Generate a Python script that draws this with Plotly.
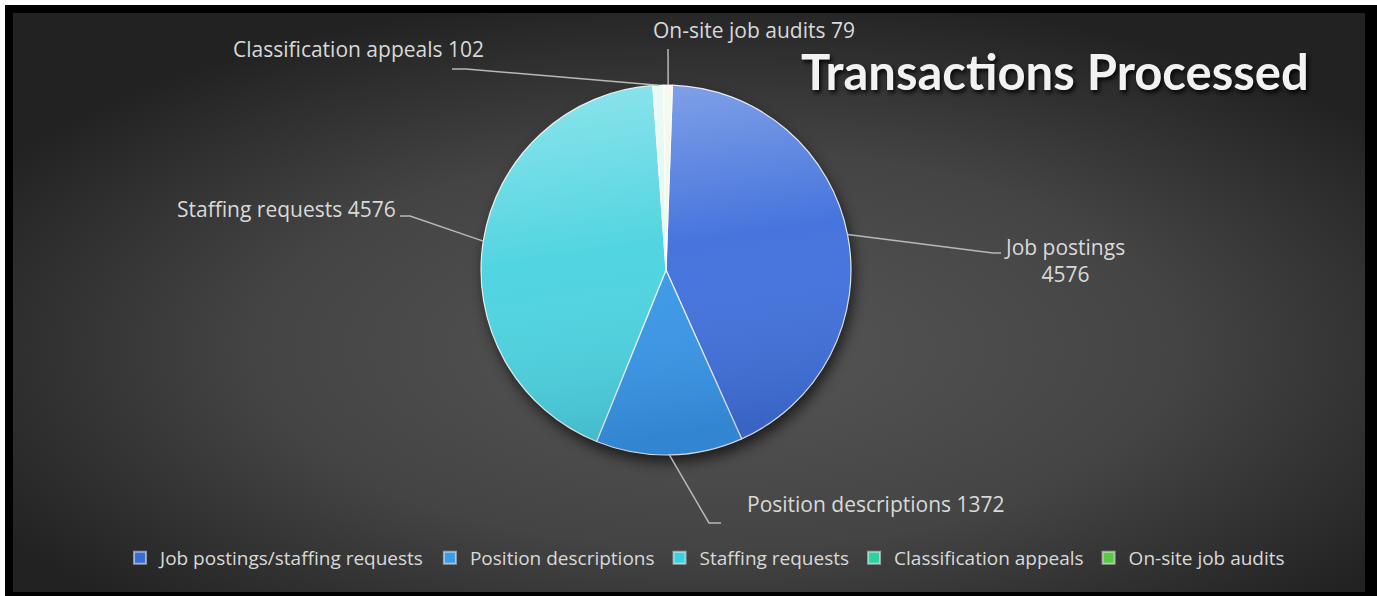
import base64
import numpy as np
import plotly.graph_objects as go

# ---------------- data ----------------
slice_labels = ["Job postings", "Position descriptions", "Staffing requests",
                "Classification appeals", "On-site job audits"]
slice_values = [4576, 1372, 4576, 102, 79]
legend_names = ["Job postings/staffing requests", "Position descriptions",
                "Staffing requests", "Classification appeals", "On-site job audits"]
label_separators = ["<br>", " ", " ", " ", " "]
chart_title = "Transactions Processed"

# ---------------- styles / layout ----------------
W, H = 1377, 596
CX, CY, R = 666, 270, 185          # pie centre / radius in px
ROTATION = 2                        # first slice start angle (deg, clockwise from 12 o'clock)
slice_colors = ["#4272dc", "#3a98e8", "#4dd4e0", "#e2f7f1", "#f1f8e4"]
legend_colors = ["#3a6cd6", "#3b9be8", "#3fd0e0", "#2fd0a2", "#5cc84a"]
text_color = "#d9d9d9"
leader_color = "#b8b8b8"

# per label: elbow point, end point of leader, text anchor, x-anchor (pixels)
label_layout = [
    dict(elbow=(993, 253), end=(1001, 253), text=(1064, 261), xanchor="center"),
    dict(elbow=(709, 523), end=(721, 523), text=(745, 504), xanchor="left"),
    dict(elbow=(410, 216), end=(400, 216), text=(398, 209), xanchor="right"),
    dict(elbow=(466, 69), end=(452, 69), text=(231, 49), xanchor="left"),
    dict(elbow=(668, 49), end=(668, 49), text=(651, 30), xanchor="left"),
]


def px(x, y):
    return x / W, 1 - y / H


# ---------------- background (svg) ----------------
bg_svg = f'''<svg xmlns="http://www.w3.org/2000/svg" width="{W}" height="{H}" viewBox="0 0 {W} {H}" preserveAspectRatio="none">
<defs>
<radialGradient id="g" cx="0.52" cy="0.58" r="0.62">
<stop offset="0" stop-color="#565656"/><stop offset="0.55" stop-color="#444444"/><stop offset="1" stop-color="#222222"/>
</radialGradient>
<filter id="b" x="-50%" y="-50%" width="200%" height="200%"><feGaussianBlur stdDeviation="7"/></filter>
</defs>
<rect width="{W}" height="{H}" fill="#ffffff"/>
<rect x="5" y="5" width="{W-5}" height="{H-5}" fill="#000000"/>
<rect x="13" y="13" width="{W-25}" height="{H-17}" fill="url(#g)"/>
<circle cx="{CX+3}" cy="{CY+7}" r="{R}" fill="#000000" opacity="0.65" filter="url(#b)"/>
</svg>'''

shade_svg = f'''<svg xmlns="http://www.w3.org/2000/svg" width="{W}" height="{H}" viewBox="0 0 {W} {H}" preserveAspectRatio="none">
<defs>
<linearGradient id="s" x1="0" y1="0" x2="0.15" y2="1">
<stop offset="0" stop-color="#ffffff" stop-opacity="0.38"/>
<stop offset="0.5" stop-color="#ffffff" stop-opacity="0.02"/>
<stop offset="1" stop-color="#001040" stop-opacity="0.14"/>
</linearGradient>
</defs>
<circle cx="{CX}" cy="{CY}" r="{R}" fill="url(#s)"/>
</svg>'''


def svg_uri(s):
    return "data:image/svg+xml;base64," + base64.b64encode(s.encode()).decode()


fig = go.Figure()

fig.add_trace(go.Pie(
    labels=slice_labels,
    values=slice_values,
    sort=False,
    direction="clockwise",
    rotation=ROTATION,
    textinfo="none",
    hoverinfo="label+value",
    showlegend=False,
    marker=dict(colors=slice_colors, line=dict(color="rgba(255,255,255,0.85)", width=1.2)),
    domain=dict(x=[(CX - R) / W, (CX + R) / W], y=[1 - (CY + R) / H, 1 - (CY - R) / H]),
))

for name, col in zip(legend_names, legend_colors):
    fig.add_trace(go.Scatter(x=[None], y=[None], mode="markers", name=name,
                             marker=dict(symbol="square", size=11, color=col,
                                         line=dict(color="rgba(255,255,255,0.5)", width=1))))

# leader lines + labels computed from the slice angles
vals = np.array(slice_values, dtype=float)
frac = vals / vals.sum()
start = np.concatenate([[0], np.cumsum(frac)[:-1]]) * 360 + ROTATION
mid = np.deg2rad(start + frac * 180)
shapes = []
annotations = []
for i, (lab, v, sep) in enumerate(zip(slice_labels, slice_values, label_separators)):
    ax = CX + R * np.sin(mid[i])
    ay = CY - R * np.cos(mid[i])
    L = label_layout[i]
    p0 = px(ax, ay)
    p1 = px(*L["elbow"])
    p2 = px(*L["end"])
    shapes.append(dict(type="path", xref="paper", yref="paper",
                       path=f"M {p0[0]},{p0[1]} L {p1[0]},{p1[1]} L {p2[0]},{p2[1]}",
                       line=dict(color=leader_color, width=1.5), layer="above"))
    tx, ty = px(*L["text"])
    annotations.append(dict(x=tx, y=ty, xref="paper", yref="paper", text=f"{lab}{sep}{v}",
                            showarrow=False, xanchor=L["xanchor"], yanchor="middle", align="center",
                            font=dict(family="Open Sans", size=21, color=text_color)))

tx, ty = px(1055, 71)
annotations.append(dict(x=tx, y=ty, xref="paper", yref="paper", text=chart_title, showarrow=False,
                        xanchor="center", yanchor="middle",
                        font=dict(family="Lato", size=49, color="#f2f2f2", weight="bold",
                                  shadow="2px 3px 4px rgba(0,0,0,0.85)")))

fig.update_layout(
    width=W, height=H,
    margin=dict(l=0, r=0, t=0, b=0),
    paper_bgcolor="#000000",
    plot_bgcolor="rgba(0,0,0,0)",
    xaxis=dict(visible=False),
    yaxis=dict(visible=False),
    shapes=shapes,
    annotations=annotations,
    images=[
        dict(source=svg_uri(bg_svg), xref="paper", yref="paper", x=0, y=1, sizex=1, sizey=1,
             xanchor="left", yanchor="top", sizing="stretch", layer="below"),
        dict(source=svg_uri(shade_svg), xref="paper", yref="paper", x=0, y=1, sizex=1, sizey=1,
             xanchor="left", yanchor="top", sizing="stretch", layer="above"),
    ],
    legend=dict(orientation="h", x=0.512, xanchor="center", y=1 - 558 / H, yanchor="middle",
                bgcolor="rgba(0,0,0,0)", font=dict(family="Open Sans", size=19, color=text_color),
                itemsizing="constant", itemclick=False),
    showlegend=True,
)

fig.write_html("out.html", config={"displayModeBar": False},
               post_script="document.body.style.margin='0';")
